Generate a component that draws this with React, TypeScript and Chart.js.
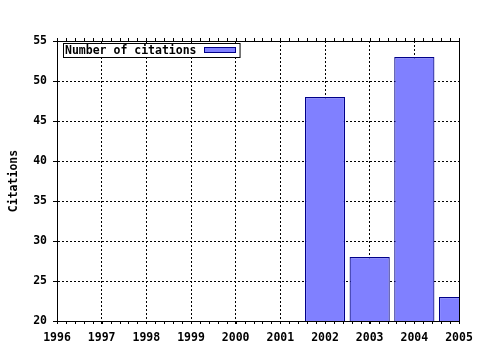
import React, { useEffect, useRef } from "react";
import { Chart, registerables } from "chart.js";

Chart.register(...registerables);

const years = [2002, 2003, 2004, 2005];
const citations = [48, 28, 53, 23];
const xMin = 1996;
const xMax = 2005;
const yMin = 20;
const yMax = 55;
const yStep = 5;
const seriesLabel = "Number of citations";
const yTitle = "Citations";

const FONT_FAMILY = '"DejaVu Sans Mono", monospace';
const BAR_FILL = "rgb(128,128,255)";
const BAR_BORDER = "#000088";

const framePlugin = {
  id: "frameAndLegend",
  afterDraw(chart: any) {
    const ctx = chart.ctx;
    const { left, right, top, bottom } = chart.chartArea;
    const xs = chart.scales.x;
    ctx.save();
    ctx.strokeStyle = "#000";
    ctx.lineWidth = 1;
    ctx.setLineDash([]);
    ctx.beginPath();
    ctx.moveTo(Math.round(left), Math.round(top) + 0.5);
    ctx.lineTo(Math.round(right) + 1, Math.round(top) + 0.5);
    ctx.moveTo(Math.round(right) + 0.5, Math.round(top));
    ctx.lineTo(Math.round(right) + 0.5, Math.round(bottom));
    const n = (xMax - xMin) * 5;
    for (let i = 0; i <= n; i++) {
      const v = xMin + i / 5;
      const px = Math.round(xs.getPixelForValue(v)) + 0.5;
      ctx.moveTo(px, Math.round(bottom));
      ctx.lineTo(px, Math.round(bottom) + 3);
      ctx.moveTo(px, Math.round(top));
      ctx.lineTo(px, Math.round(top) - 3);
    }
    ctx.stroke();

    ctx.font = "bold 11.5px " + FONT_FAMILY;
    const bx = 63.5, by = 43.5;
    const textW = ctx.measureText(seriesLabel).width;
    const sw = 31;
    const bw = 2 + textW + 7 + sw + 5;
    const bh = 14;
    ctx.fillStyle = "#fff";
    ctx.fillRect(bx, by, bw, bh);
    ctx.strokeRect(bx, by, bw, bh);
    ctx.fillStyle = "#000";
    ctx.textBaseline = "middle";
    ctx.textAlign = "left";
    ctx.fillText(seriesLabel, bx + 1.5, by + bh / 2 + 0.5);
    const sx = Math.round(bx + 2 + textW + 7) + 0.5;
    ctx.fillStyle = BAR_FILL;
    ctx.fillRect(sx, by + 4, sw, 5);
    ctx.strokeStyle = BAR_BORDER;
    ctx.strokeRect(sx, by + 4, sw, 5);
    ctx.restore();
  },
};

export default function App() {
  const ref = useRef<HTMLCanvasElement | null>(null);
  useEffect(() => {
    if (!ref.current) return;
    const font = { family: FONT_FAMILY, size: 11.5, weight: "bold" as const };
    const chart = new Chart(ref.current, {
      type: "bar",
      data: {
        datasets: [
          {
            label: seriesLabel,
            data: years.map((y, i) => ({ x: y, y: citations[i] })),
            backgroundColor: BAR_FILL,
            borderColor: BAR_BORDER,
            borderWidth: 1.2,
            borderSkipped: false,
            barPercentage: 0.9,
            categoryPercentage: 1,
          },
        ],
      },
      options: {
        responsive: false,
        animation: false,
        events: [],
        layout: { padding: { left: 0, right: 21, top: 41, bottom: 0 } },
        plugins: { legend: { display: false }, tooltip: { enabled: false } },
        scales: {
          x: {
            type: "linear",
            min: xMin,
            max: xMax,
            offset: false,
            ticks: { stepSize: 1, color: "#000", font, padding: 7, maxRotation: 0, autoSkip: false, callback: (v: any) => String(v) },
            grid: { color: "#000", lineWidth: 1, tickLength: 3, tickColor: "#000", offset: false },
            border: { display: true, color: "#000", width: 1, dash: [2, 2] },
            afterFit: (s: any) => { s.height = 29; },
          },
          y: {
            min: yMin,
            max: yMax,
            ticks: { stepSize: yStep, color: "#000", font, padding: 6 },
            grid: { color: "#000", lineWidth: 1, tickLength: 4, tickColor: "#000" },
            border: { display: true, color: "#000", width: 1, dash: [2, 2] },
            title: { display: true, text: yTitle, color: "#000", font, padding: { top: 7, bottom: 0 } },
            afterFit: (s: any) => { s.width = 57; },
          },
        },
      },
      plugins: [framePlugin],
    });
    return () => chart.destroy();
  }, []);
  return (
    <div style={{ position: "absolute", left: 0, top: 0, width: 480, height: 350, background: "#fff" }}>
      <canvas ref={ref} width={480} height={350} />
    </div>
  );
}
